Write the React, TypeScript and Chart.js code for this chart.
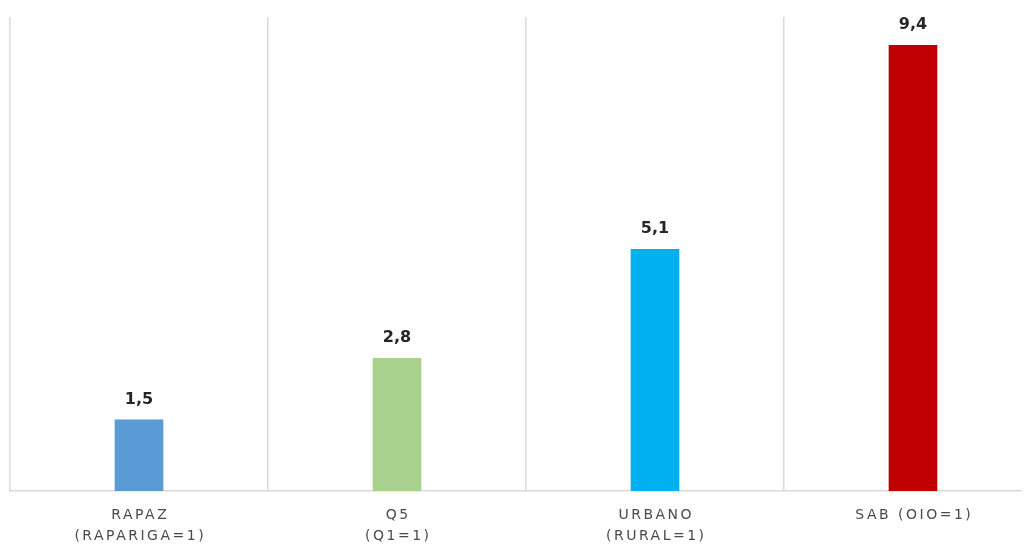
import React, { useEffect, useRef } from "react";
import { Chart, registerables } from "chart.js";

Chart.register(...registerables);

const categories: string[][] = [
  ["RAPAZ", "(RAPARIGA=1)"],
  ["Q5", "(Q1=1)"],
  ["URBANO", "(RURAL=1)"],
  ["SAB (OIO=1)"],
];
const values: number[] = [1.5, 2.8, 5.1, 9.4];
const valueLabels: string[] = ["1,5", "2,8", "5,1", "9,4"];
const barColors: string[] = ["#5b9bd5", "#a9d18e", "#00b0f0", "#c00000"];

const labelPlugin = {
  id: "customLabels",
  afterDraw(chart: any) {
    const ctx = chart.ctx as CanvasRenderingContext2D;
    const xScale = chart.scales.x;
    const meta = chart.getDatasetMeta(0);
    ctx.save();
    // value labels
    ctx.font = "bold 16px 'DejaVu Sans'";
    ctx.fillStyle = "#262626";
    ctx.textAlign = "center";
    ctx.textBaseline = "alphabetic";
    meta.data.forEach((bar: any, i: number) => {
      ctx.fillText(valueLabels[i], bar.x, bar.y - 16);
    });
    // category labels
    ctx.font = "14px 'DejaVu Sans'";
    ctx.fillStyle = "#4a4a4a";
    (ctx as any).letterSpacing = "2.5px";
    categories.forEach((lines, i) => {
      const x = xScale.getPixelForValue(i);
      lines.forEach((line, j) => {
        ctx.fillText(line, x + 1.25, chart.chartArea.bottom + 28 + j * 21);
      });
    });
    ctx.restore();
  },
};

export default function App() {
  const canvasRef = useRef<HTMLCanvasElement | null>(null);
  useEffect(() => {
    if (!canvasRef.current) return;
    const chart = new Chart(canvasRef.current, {
      type: "bar",
      data: {
        labels: categories.map((c) => c.join(" ")),
        datasets: [
          {
            data: values,
            backgroundColor: barColors,
            barThickness: 48,
          },
        ],
      },
      options: {
        animation: false,
        responsive: false,
        maintainAspectRatio: false,
        layout: { padding: { left: 2, right: 16, top: 9, bottom: 53 } },
        plugins: {
          legend: { display: false },
          tooltip: { enabled: false },
        },
        scales: {
          x: {
            grid: {
              display: true,
              color: "#d9d9d9",
              lineWidth: 1.5,
              drawTicks: false,
              offset: true,
            },
            border: { display: true, color: "#d9d9d9", width: 1.5 },
            ticks: { display: false },
          },
          y: {
            display: false,
            min: 0,
            max: 10,
          },
        },
      },
      plugins: [labelPlugin],
    });
    return () => chart.destroy();
  }, []);
  return (
    <div style={{ width: 1022, height: 536, overflow: "hidden" }}>
      <canvas
        ref={canvasRef}
        width={1050}
        height={536}
        style={{ width: 1050, height: 536, display: "block" }}
      />
    </div>
  );
}
